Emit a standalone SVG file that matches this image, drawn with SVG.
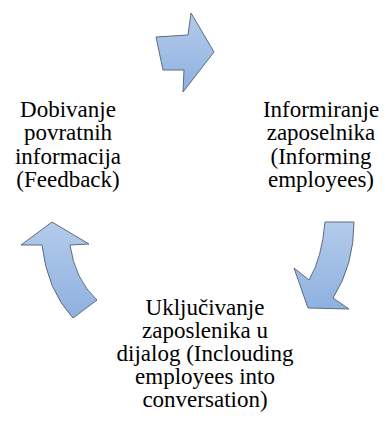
<svg xmlns="http://www.w3.org/2000/svg" width="391" height="432" viewBox="0 0 391 432">
<defs>
<linearGradient id="g" x1="0" y1="0" x2="0" y2="1">
<stop offset="0" stop-color="#b4cbea"/>
<stop offset="1" stop-color="#8eb1e0"/>
</linearGradient>
<style>
.arr{fill:url(#g);stroke:#5d6b7e;stroke-width:1;stroke-linejoin:miter}
text{font-family:"Liberation Serif","Times New Roman",serif;font-size:23px;fill:#000;text-anchor:middle}
</style>
</defs>
<rect width="391" height="432" fill="#fff"/>
<g id="connectors">
<path class="arr" d="M156,37 L188,35 L191,13 L214,52 L183,92 L184,70 L163,70 Z"/>
<path class="arr" d="M325,222 L354,222 Q354,265 333,298 L349,309 L308,308 L294,268 L309,280 Q322,258 325,222 Z"/>
<path class="arr" d="M52,222 L89,244 L70,245 Q75,280 97,300 L73,318 Q47,290 42,245 L21,245 Z"/>
</g>
<g id="node-feedback">
<text x="68" y="117">Dobivanje</text>
<text x="68" y="140">povratnih</text>
<text x="68" y="164">informacija</text>
<text x="68" y="187">(Feedback)</text>
</g>
<g id="node-informing">
<text x="321" y="117">Informiranje</text>
<text x="321" y="140">zaposelnika</text>
<text x="321" y="164">(Informing</text>
<text x="321" y="187">employees)</text>
</g>
<g id="node-dialog">
<text x="205" y="315">Uključivanje</text>
<text x="205" y="338">zaposlenika u</text>
<text x="205" y="361">dijalog (Inclouding</text>
<text x="205" y="384">employees into</text>
<text x="205" y="407">conversation)</text>
</g>
</svg>
